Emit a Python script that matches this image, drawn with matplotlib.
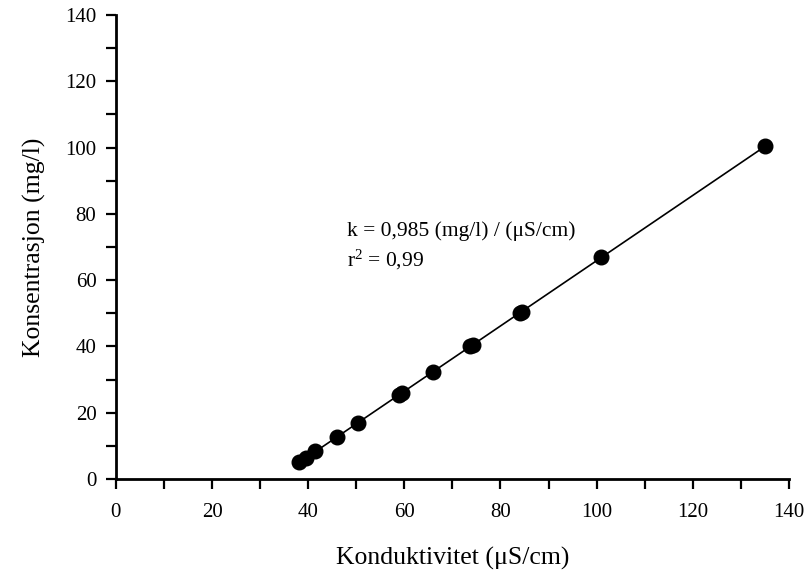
import numpy as np
import matplotlib
matplotlib.use("Agg")
import matplotlib.pyplot as plt
from matplotlib.ticker import MultipleLocator

plt.rcParams['font.family'] = ['Liberation Serif', 'DejaVu Serif']
plt.rcParams['mathtext.fontset'] = 'custom'
plt.rcParams['mathtext.rm'] = 'Liberation Serif'
plt.rcParams['mathtext.it'] = 'Liberation Serif:italic'

# Data
conductivity = [38.0, 39.5, 41.5, 46.0, 50.3, 58.8, 59.5, 66.0, 73.6, 74.2, 84.0, 84.5, 101.0, 135.1]
concentration = [5.0, 6.2, 8.4, 12.6, 16.8, 25.3, 25.9, 32.4, 40.1, 40.5, 50.0, 50.4, 67.0, 100.4]

xlabel = "Konduktivitet (μS/cm)"
ylabel = "Konsentrasjon (mg/l)"
annot_k = "k = 0,985 (mg/l) / (μS/cm)"
annot_r = r"r$^{2}$ = 0,99"

fig = plt.figure(figsize=(8.05, 5.74), dpi=100)
ax = fig.add_axes([0.144, 0.1655, 0.836, 0.8085])

x = np.array(conductivity)
y = np.array(concentration)
slope, intercept = np.polyfit(x, y, 1)
xl = np.array([x.min(), x.max()])
ax.plot(xl, slope * xl + intercept, color='black', lw=1.2, zorder=2)
ax.plot(x, y, 'o', color='black', markersize=10.5, zorder=3)

ax.set_xlim(0, 140)
ax.set_ylim(0, 140)
ax.xaxis.set_major_locator(MultipleLocator(20))
ax.xaxis.set_minor_locator(MultipleLocator(10))
ax.yaxis.set_major_locator(MultipleLocator(20))
ax.yaxis.set_minor_locator(MultipleLocator(10))
for s in ['top', 'right']:
    ax.spines[s].set_visible(False)
for s in ['left', 'bottom']:
    ax.spines[s].set_linewidth(2)
ax.tick_params(which='both', direction='out', length=7, width=1.6, labelsize=15)
ax.tick_params(axis='x', pad=10)
ax.tick_params(axis='y', pad=7)

ax.set_xlabel(xlabel, fontsize=18.5, labelpad=18)
ax.set_ylabel(ylabel, fontsize=18.5, labelpad=14)

ax.text(48, 74.8, annot_k, fontsize=15.5, va='center', ha='left')
ax.text(48, 66.0, annot_r, fontsize=15.5, va='center', ha='left')

fig.savefig("out.png", dpi=100)
